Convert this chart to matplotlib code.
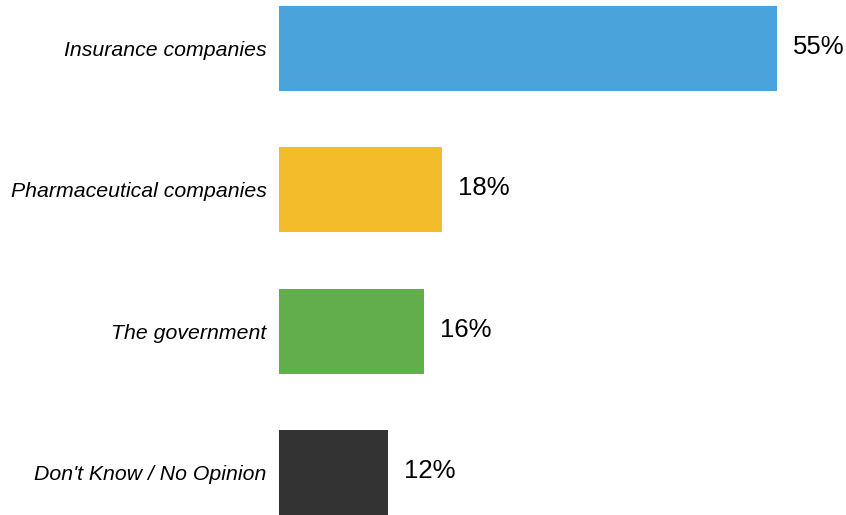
import matplotlib
matplotlib.use("Agg")
import matplotlib.pyplot as plt

categories = ["Insurance companies", "Pharmaceutical companies", "The government", "Don't Know / No Opinion"]
values = [55, 18, 16, 12]
colors = ["#4aa3db", "#f2bc2a", "#62ae4c", "#333333"]

plt.rcParams['font.family'] = ['Liberation Sans', 'DejaVu Sans']

fig = plt.figure(figsize=(8.46, 5.15), dpi=100)
ax = fig.add_axes([279/846, 0, 1 - 279/846, 1 - 6/515])
y = list(range(len(categories)))
ax.barh(y, values, height=0.6, color=colors)
ax.set_ylim(3.3, -0.3)
ax.set_xlim(0, 62.6)
ax.set_yticks(y)
ax.set_yticklabels(categories, fontsize=15.3, style='italic')
ax.tick_params(axis='y', length=0, pad=9)
ax.set_xticks([])
for s in ax.spines.values():
    s.set_visible(False)
for yi, v in zip(y, values):
    ax.text(v + 1.75, yi - 0.01, f"{v}%", va='center', ha='left', fontsize=18.5, color='black')

fig.savefig("out.png", dpi=100)
